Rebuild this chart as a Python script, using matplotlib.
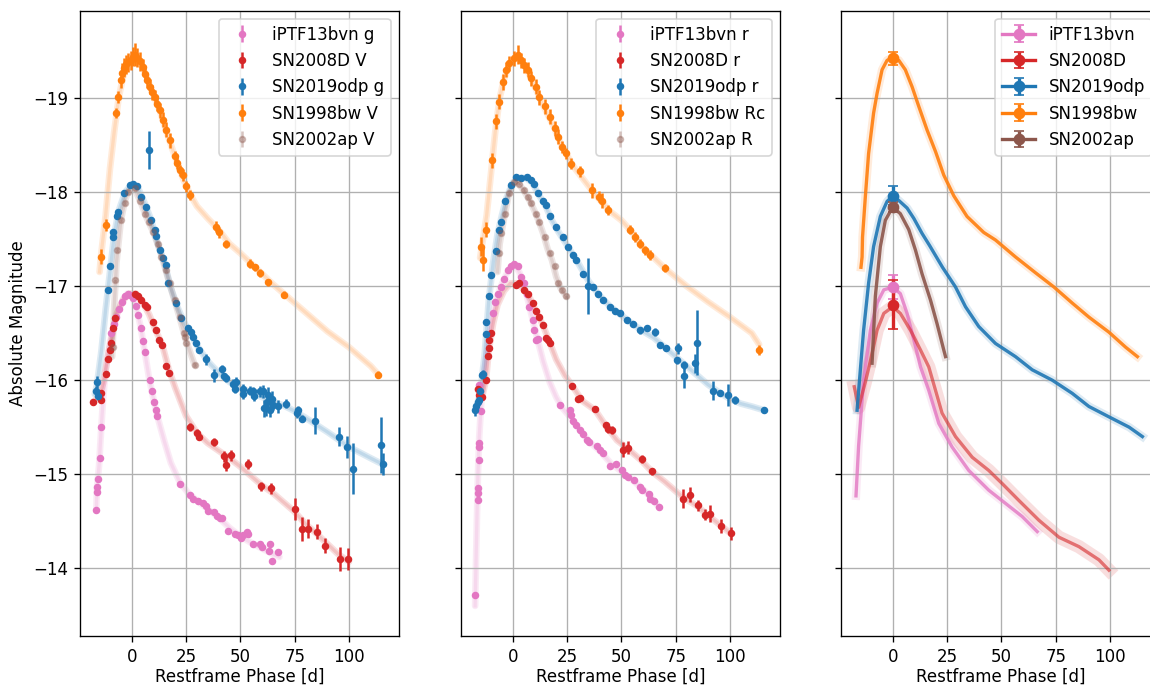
import numpy as np
import matplotlib
matplotlib.use("Agg")
from matplotlib import pyplot as plt

# ############################ colours ###############################
c_iptf = '#e377c2'
c_08d = '#d62728'
c_odp = '#1f77b4'
c_bw = '#ff7f0e'
c_02ap = '#8c564b'

# ############################ panel 1 : g / V ###############################
iptf_g_t = [-16.3,-16.0,-16.0,-15.4,-14.4,-14.0,-9.4,-8.3,-7.1,-5.8,-4.7,-3.2,-1.7,-0.9,0.6,1.8,2.9,
            4.5,5.2,6.0,8.3,9.4,10.3,11.1,11.7,22.1,26.7,28.2,30.6,32.9,34.4,35.2,37.8,39.3,40.6,41.6,
            44.4,47.5,49.0,50.1,51.3,52.9,53.6,55.9,59.0,59.8,63.3,63.6,64.4,67.2]
iptf_g_m = [-14.62,-14.81,-14.86,-14.95,-15.17,-15.50,-16.50,-16.60,-16.67,-16.76,-16.83,-16.89,-16.92,-16.91,-16.87,-16.79,-16.69,
            -16.55,-16.42,-16.30,-16.00,-15.89,-15.77,-15.68,-15.62,-14.90,-14.78,-14.74,-14.71,-14.69,-14.66,-14.61,-14.60,-14.56,-14.53,-14.53,
            -14.40,-14.36,-14.35,-14.32,-14.35,-14.39,-14.36,-14.26,-14.26,-14.23,-14.18,-14.26,-14.08,-14.17]
iptf_g_err = 0.03

sn08d_v_t = [-17.8,-14.3,-14.0,-12.0,-10.9,-10.1,-9.4,-8.6,-7.8,1.4,2.9,4.5,6.0,7.0,9.8,11.4,12.6,14.1,16.0,17.2,
             27.0,30.1,30.9,37.8,42.4,43.3,45.9,53.6,59.4,64.1,75.1,78.2,81.3,85.1,88.9,95.9,99.7]
sn08d_v_m = [-15.77,-15.79,-15.86,-16.07,-16.22,-16.32,-16.40,-16.55,-16.66,-16.92,-16.90,-16.85,-16.80,-16.78,-16.62,-16.53,-16.43,-16.37,-16.15,-16.08,
             -15.50,-15.44,-15.40,-15.34,-15.19,-15.10,-15.20,-15.11,-14.87,-14.85,-14.63,-14.42,-14.42,-14.39,-14.24,-14.10,-14.10]
sn08d_v_err = [0.03,0.03,0.03,0.03,0.03,0.03,0.03,0.03,0.03,0.03,0.03,0.03,0.03,0.03,0.03,0.03,0.03,0.03,0.03,0.03,
               0.04,0.04,0.04,0.04,0.06,0.07,0.06,0.05,0.05,0.06,0.12,0.13,0.10,0.08,0.08,0.13,0.12]

odp_g_t = [-16.3,-15.8,-15.5,-10.9,-10.1,-8.6,-8.4,-6.8,-6.4,-3.7,-0.9,0.6,2.5,
           4.5,6.8,8.0,9.1,10.6,11.2,12.9,14.4,15.7,16.7,20.3,22.9,26.0,27.4,28.2,29.8,31.0,34.4,37.8,
           41.6,42.3,43.2,46.4,47.5,48.2,51.0,51.3,54.4,56.0,56.3,59.0,60.5,60.8,62.0,62.4,62.8,63.6,64.4,65.1,67.4,
           71.0,75.9,76.6,78.2,84.3,95.5,98.9,101.7,114.6,115.5]
odp_g_m = [-15.89,-15.98,-15.83,-16.96,-17.21,-17.52,-17.57,-17.74,-17.79,-17.99,-18.07,-18.09,-18.06,
           -17.95,-17.84,-18.45,-17.70,-17.60,-17.53,-17.38,-17.30,-17.22,-17.03,-16.82,-16.66,-16.55,-16.51,-16.46,-16.39,-16.32,-16.22,-16.05,
           -16.12,-16.04,-16.02,-15.96,-15.91,-15.98,-15.91,-15.85,-15.89,-15.88,-15.83,-15.88,-15.88,-15.70,-15.70,-15.77,-15.84,-15.68,-15.80,-15.74,-15.72,
           -15.75,-15.65,-15.68,-15.59,-15.57,-15.40,-15.29,-15.06,-15.31,-15.11]
odp_g_err = [0.05,0.06,0.04,0.03,0.03,0.03,0.03,0.03,0.03,0.03,0.03,0.03,0.03,
             0.03,0.03,0.20,0.03,0.03,0.03,0.03,0.03,0.03,0.03,0.03,0.03,0.03,0.03,0.03,0.03,0.03,0.06,0.07,
             0.04,0.04,0.04,0.05,0.05,0.05,0.05,0.05,0.05,0.05,0.05,0.06,0.07,0.09,0.08,0.10,0.09,0.07,0.08,0.06,0.07,
             0.05,0.05,0.05,0.04,0.14,0.10,0.12,0.27,0.30,0.12]

bw_v_t = [-14.3,-12.0,-7.4,-6.1,-4.8,-4.4,-3.5,-2.5,-1.5,-0.5,0.5,1.4,2.5,3.7,5.0,6.0,7.2,8.3,9.5,10.6,
          11.8,12.9,14.3,15.7,17.5,19.8,21.0,22.1,23.6,25.2,27.0,39.0,40.3,43.6,54.4,56.8,59.0,62.8,70.2,113.5]
bw_v_m = [-17.31,-17.65,-18.84,-19.01,-19.19,-19.27,-19.32,-19.36,-19.38,-19.40,-19.44,-19.46,-19.43,-19.39,-19.33,-19.26,-19.19,-19.12,-19.06,-19.01,
          -18.94,-18.87,-18.77,-18.66,-18.55,-18.38,-18.31,-18.23,-18.18,-18.06,-17.97,-17.63,-17.57,-17.45,-17.24,-17.20,-17.14,-17.04,-16.91,-16.06]
bw_v_err = [0.08,0.06,0.05,0.06,0.08,0.10,0.10,0.10,0.10,0.10,0.10,0.12,0.10,0.10,0.08,0.08,0.08,0.08,0.08,0.08,
            0.08,0.08,0.08,0.08,0.08,0.06,0.06,0.06,0.06,0.06,0.05,0.06,0.06,0.04,0.05,0.04,0.04,0.04,0.04,0.04]

sn02ap_v_t = [-8.6,-7.8,-6.8,-5.1,-3.2,-1.7,1.4,3.7,6.0,8.0,9.8,12.1,13.7,15.7,17.5,19.8,22.1,24.0,24.4,24.9,29.0]
sn02ap_v_m = [-16.35,-17.06,-17.38,-17.70,-17.88,-18.00,-18.04,-17.91,-17.77,-17.68,-17.58,-17.45,-17.31,-17.17,-17.03,-16.85,-16.67,-16.50,-16.46,-16.39,-16.16]
sn02ap_v_err = 0.02

# fitted model curves (panel 1)
iptf_g_mod_t = [-16.3,-16.0,-15.0,-14.0,-13.0,-12.0,-10.0,-8.0,-6.0,-4.0,-2.0,0.0,2.0,4.0,6.0,8.0,10.0,12.0,15.0,18.0,22.0,26.0,30.0,35.0,40.0,45.0,50.0,55.0,60.0,65.0,68.0]
iptf_g_mod_m = [-14.62,-14.85,-15.10,-15.50,-15.85,-16.10,-16.40,-16.60,-16.75,-16.86,-16.92,-16.90,-16.78,-16.58,-16.30,-16.02,-15.80,-15.60,-15.35,-15.12,-14.92,-14.80,-14.72,-14.63,-14.54,-14.43,-14.34,-14.27,-14.21,-14.15,-14.12]
sn08d_v_mod_t = [-17.8,-15.0,-13.0,-11.0,-9.0,-7.0,-4.0,-1.0,2.0,5.0,8.0,11.0,14.0,17.0,20.0,25.0,30.0,35.0,40.0,45.0,50.0,55.0,60.0,65.0,70.0,75.0,80.0,85.0,90.0,95.0,100.0]
sn08d_v_mod_m = [-15.77,-15.82,-15.98,-16.25,-16.48,-16.70,-16.85,-16.92,-16.92,-16.83,-16.70,-16.53,-16.38,-16.12,-15.92,-15.62,-15.44,-15.33,-15.25,-15.17,-15.08,-14.98,-14.88,-14.80,-14.70,-14.60,-14.47,-14.37,-14.26,-14.15,-14.07]
odp_g_mod_t = [-17.0,-16.0,-14.0,-12.0,-10.0,-8.0,-6.0,-3.0,0.0,3.0,6.0,9.0,12.0,15.0,18.0,21.0,24.0,27.0,30.0,35.0,40.0,45.0,50.0,55.0,60.0,65.0,70.0,75.0,80.0,90.0,100.0,110.0,116.0]
odp_g_mod_m = [-15.85,-15.95,-16.30,-16.75,-17.15,-17.55,-17.80,-18.00,-18.08,-18.04,-17.88,-17.70,-17.45,-17.25,-16.98,-16.78,-16.62,-16.50,-16.37,-16.20,-16.08,-15.98,-15.92,-15.87,-15.82,-15.77,-15.73,-15.67,-15.60,-15.45,-15.29,-15.17,-15.10]
bw_v_mod_t = [-14.8,-14.0,-12.0,-10.0,-8.0,-6.0,-4.0,-2.0,1.0,4.0,7.0,10.0,13.0,16.0,20.0,24.0,27.0,30.0,35.0,40.0,45.0,50.0,55.0,60.0,65.0,70.0,80.0,90.0,100.0,110.0,113.5]
bw_v_mod_m = [-17.15,-17.35,-17.75,-18.25,-18.65,-19.00,-19.22,-19.35,-19.42,-19.38,-19.22,-19.03,-18.86,-18.64,-18.37,-18.12,-17.97,-17.85,-17.72,-17.60,-17.45,-17.35,-17.24,-17.13,-17.02,-16.92,-16.72,-16.52,-16.35,-16.15,-16.06]
sn02ap_v_mod_t = [-9.0,-8.0,-7.0,-5.0,-3.0,-1.0,1.0,4.0,7.0,10.0,13.0,16.0,19.0,22.0,25.0,29.0]
sn02ap_v_mod_m = [-16.25,-16.80,-17.25,-17.70,-17.92,-18.03,-18.05,-17.90,-17.72,-17.57,-17.38,-17.14,-16.90,-16.67,-16.42,-16.16]

# ############################ panel 2 : r / R ###############################
iptf_r_t = [-17.3,-16.2,-16.2,-16.2,-15.7,-15.4,-15.7,-14.7,-15.4,-9.3,-8.0,-6.9,-5.4,-3.9,-2.3,-0.8,0.8,2.3,3.9,
            5.4,6.5,7.7,9.3,10.0,10.8,11.6,21.9,26.2,27.0,27.8,29.3,30.9,32.4,34.0,35.2,38.6,
            40.1,41.7,44.8,47.5,50.2,51.7,53.2,55.6,58.6,59.4,62.5,63.3,64.8,67.1]
iptf_r_m = [-13.72,-14.73,-14.80,-14.85,-15.15,-15.29,-15.33,-15.67,-15.95,-16.71,-16.83,-16.92,-16.99,-17.08,-17.17,-17.21,-17.24,-17.21,-17.10,
            -17.03,-16.92,-16.78,-16.64,-16.53,-16.43,-16.44,-15.74,-15.68,-15.63,-15.57,-15.52,-15.47,-15.43,-15.36,-15.34,-15.30,
            -15.26,-15.23,-15.09,-15.11,-15.04,-14.99,-14.97,-14.94,-14.86,-14.83,-14.79,-14.74,-14.72,-14.65]
iptf_r_err = 0.03

sn08d_r_t = [-16.2,-15.4,-14.2,-12.3,-11.6,-11.1,-10.8,-10.0,1.5,3.1,5.4,6.9,9.3,10.8,12.3,13.9,15.4,16.2,17.0,
             27.5,30.1,30.9,37.9,42.9,44.0,45.5,50.9,53.2,59.4,64.1,78.4,81.5,85.2,88.7,91.0,96.0,100.3]
sn08d_r_m = [-15.91,-15.84,-15.82,-16.00,-16.26,-16.34,-16.43,-16.50,-17.01,-17.03,-16.96,-16.92,-16.82,-16.73,-16.67,-16.59,-16.45,-16.43,-16.39,
             -15.94,-15.80,-15.81,-15.69,-15.52,-15.48,-15.47,-15.26,-15.28,-15.16,-15.03,-14.74,-14.78,-14.67,-14.57,-14.58,-14.45,-14.37]
sn08d_r_err = [0.03,0.03,0.03,0.03,0.03,0.03,0.03,0.03,0.03,0.03,0.03,0.03,0.03,0.03,0.03,0.03,0.03,0.03,0.03,
               0.03,0.03,0.03,0.03,0.04,0.04,0.04,0.08,0.07,0.04,0.04,0.10,0.08,0.06,0.06,0.09,0.07,0.07]

odp_r_t = [-17.3,-16.9,-16.2,-15.7,-15.1,-14.2,-13.9,-12.3,-12.3,-11.1,-10.0,-7.7,-6.5,-5.4,-3.4,-0.8,1.5,3.9,6.5,8.5,
           10.0,11.6,13.9,15.4,17.0,20.0,23.1,25.5,27.8,29.3,32.4,34.7,37.0,39.4,41.7,44.8,47.1,49.4,52.5,55.2,
           58.6,61.7,65.3,67.9,70.7,75.6,75.9,78.7,78.7,84.0,84.9,92.3,95.4,99.1,102.3,115.7]
odp_r_m = [-15.68,-15.72,-15.77,-15.79,-15.88,-16.05,-16.07,-16.49,-16.62,-16.89,-17.12,-17.37,-17.60,-17.68,-17.91,-18.07,-18.16,-18.15,-18.16,-18.13,
           -18.09,-17.99,-17.91,-17.86,-17.74,-17.63,-17.52,-17.42,-17.33,-17.28,-17.13,-17.00,-16.99,-16.92,-16.85,-16.78,-16.73,-16.71,-16.64,-16.60,
           -16.53,-16.55,-16.51,-16.37,-16.34,-16.21,-16.34,-16.16,-16.04,-16.18,-16.40,-15.89,-15.86,-15.84,-15.79,-15.68]
odp_r_err = [0.06,0.06,0.05,0.05,0.04,0.04,0.04,0.03,0.03,0.03,0.03,0.03,0.03,0.03,0.03,0.03,0.03,0.03,0.03,0.03,
             0.03,0.03,0.03,0.03,0.03,0.03,0.03,0.03,0.03,0.03,0.03,0.30,0.03,0.03,0.03,0.03,0.03,0.03,0.03,0.03,
             0.04,0.03,0.04,0.03,0.03,0.04,0.06,0.04,0.12,0.10,0.35,0.10,0.03,0.12,0.04,0.03]

bw_r_t = [-14.7,-13.9,-12.3,-9.6,-7.7,-6.5,-4.6,-3.1,-1.5,0.8,2.3,3.9,5.4,6.9,8.5,10.8,12.3,14.7,17.0,19.3,
          20.8,22.8,24.7,27.0,30.9,36.3,39.8,40.9,44.0,54.0,56.3,58.6,61.0,63.0,70.2,113.4]
bw_r_m = [-17.42,-17.28,-17.60,-18.34,-18.75,-18.96,-19.17,-19.30,-19.37,-19.42,-19.46,-19.40,-19.35,-19.30,-19.21,-19.12,-19.01,-18.91,-18.80,-18.68,
          -18.59,-18.48,-18.41,-18.30,-18.22,-18.02,-17.95,-17.91,-17.81,-17.60,-17.52,-17.45,-17.38,-17.33,-17.19,-16.32]
bw_r_err = [0.10,0.12,0.08,0.08,0.08,0.08,0.08,0.08,0.08,0.08,0.10,0.08,0.08,0.08,0.08,0.08,0.08,0.08,0.08,0.08,
            0.08,0.06,0.06,0.06,0.06,0.08,0.06,0.08,0.05,0.05,0.05,0.05,0.05,0.05,0.04,0.05]

sn02ap_r_t = [-6.5,-5.4,-3.4,-1.5,0.8,3.1,5.4,6.9,8.5,10.8,12.3,14.7,17.0,19.3,20.8,22.8,24.7]
sn02ap_r_m = [-17.35,-17.56,-17.77,-17.99,-18.11,-18.09,-18.02,-17.95,-17.88,-17.77,-17.68,-17.52,-17.35,-17.21,-17.03,-16.96,-16.89]
sn02ap_r_err = 0.02

# fitted model curves (panel 2)
iptf_r_mod_t = [-17.3,-16.5,-16.0,-15.4,-14.5,-13.0,-11.0,-9.0,-7.0,-5.0,-3.0,-1.0,1.0,3.0,5.0,7.0,9.0,11.0,14.0,17.0,20.0,23.0,26.0,30.0,35.0,40.0,45.0,50.0,55.0,60.0,65.0,67.2]
iptf_r_mod_m = [-13.60,-14.50,-15.00,-15.40,-15.75,-16.10,-16.45,-16.72,-16.90,-17.02,-17.12,-17.20,-17.22,-17.15,-17.03,-16.85,-16.66,-16.47,-16.20,-15.98,-15.82,-15.70,-15.62,-15.50,-15.35,-15.25,-15.12,-15.03,-14.94,-14.84,-14.72,-14.65]
sn08d_r_mod_t = [-16.2,-14.0,-12.3,-11.0,-9.0,-7.0,-4.0,-1.0,2.0,5.0,8.0,11.0,14.0,17.0,20.0,24.0,28.0,32.0,38.0,43.0,48.0,53.0,59.0,64.0,70.0,78.0,85.0,90.0,96.0,100.3]
sn08d_r_mod_m = [-15.90,-15.83,-16.00,-16.32,-16.60,-16.80,-16.95,-17.03,-17.03,-16.97,-16.87,-16.72,-16.58,-16.40,-16.22,-16.05,-15.92,-15.78,-15.68,-15.51,-15.36,-15.27,-15.15,-15.03,-14.92,-14.76,-14.66,-14.56,-14.45,-14.37]
odp_r_mod_t = [-17.3,-15.0,-13.0,-11.0,-9.0,-7.0,-5.0,-3.0,0.0,3.0,6.0,9.0,12.0,15.0,18.0,21.0,24.0,27.0,30.0,35.0,40.0,45.0,50.0,55.0,60.0,65.0,70.0,75.0,80.0,85.0,90.0,95.0,100.0,105.0,110.0,115.7]
odp_r_mod_m = [-15.68,-15.85,-16.25,-16.85,-17.25,-17.55,-17.75,-17.93,-18.10,-18.15,-18.15,-18.10,-17.97,-17.86,-17.70,-17.58,-17.47,-17.36,-17.25,-17.05,-16.90,-16.78,-16.69,-16.60,-16.52,-16.45,-16.35,-16.25,-16.15,-16.05,-15.95,-15.87,-15.80,-15.75,-15.72,-15.68]
bw_r_mod_t = [-15.0,-14.0,-12.0,-10.0,-8.0,-6.0,-4.0,-2.0,1.0,4.0,7.0,10.0,13.0,16.0,19.0,22.0,25.0,28.0,32.0,36.0,40.0,45.0,50.0,55.0,60.0,65.0,70.0,80.0,90.0,100.0,110.0,113.4]
bw_r_mod_m = [-17.30,-17.45,-17.75,-18.20,-18.65,-19.00,-19.20,-19.33,-19.42,-19.40,-19.28,-19.13,-18.97,-18.83,-18.69,-18.52,-18.39,-18.27,-18.15,-18.03,-17.92,-17.79,-17.70,-17.57,-17.41,-17.30,-17.19,-17.00,-16.83,-16.67,-16.50,-16.38]
sn02ap_r_mod_t = [-7.0,-6.0,-4.0,-2.0,0.0,2.0,4.0,6.0,8.0,10.0,12.0,14.0,16.0,18.0,20.0,22.0,24.7]
sn02ap_r_mod_m = [-17.15,-17.45,-17.72,-17.95,-18.08,-18.10,-18.05,-17.98,-17.90,-17.80,-17.69,-17.56,-17.40,-17.28,-17.10,-16.98,-16.89]

# ############################ panel 3 : combined light curves ###############################
iptf_b_t = [-16.9,-15.7,-13.4,-10.3,-7.2,-4.1,0.0,3.5,6.6,9.7,12.8,16.6,21.2,27.3,35.0,44.2,51.9,59.6,66.5]
iptf_b_m = [-14.77,-15.30,-16.00,-16.53,-16.82,-16.96,-16.99,-16.92,-16.71,-16.43,-16.14,-15.89,-15.54,-15.29,-15.04,-14.83,-14.69,-14.55,-14.39]
sn08d_b_t = [-17.7,-15.7,-12.6,-10.3,-7.2,-4.1,0.0,3.5,8.2,12.8,16.6,22.7,28.9,36.6,44.2,50.4,58.1,67.3,76.5,85.7,94.9,99.5]
sn08d_b_m = [-15.93,-15.71,-15.98,-16.20,-16.53,-16.71,-16.78,-16.71,-16.53,-16.32,-16.14,-15.65,-15.40,-15.18,-15.04,-14.90,-14.72,-14.51,-14.33,-14.23,-14.09,-13.98]
odp_b_t = [-16.4,-14.9,-13.4,-11.1,-8.8,-5.7,-2.6,0.0,2.8,6.6,9.7,13.5,17.0,22.9,28.9,33.5,39.6,47.3,56.5,64.2,73.4,82.6,90.3,99.5,108.8,114.9]
odp_b_m = [-15.68,-16.11,-16.53,-17.03,-17.42,-17.74,-17.90,-17.96,-17.91,-17.83,-17.72,-17.56,-17.43,-17.20,-16.99,-16.78,-16.57,-16.39,-16.25,-16.11,-16.00,-15.86,-15.72,-15.61,-15.50,-15.40]
bw_b_t = [-14.6,-14.1,-13.9,-12.6,-11.1,-8.8,-7.2,-4.9,-2.6,0.0,2.8,5.8,8.9,12.0,15.8,19.7,23.5,28.1,34.2,41.9,47.3,56.5,65.8,74.2,82.6,90.3,99.5,107.2,112.6]
bw_b_m = [-17.20,-17.31,-17.52,-17.95,-18.41,-18.84,-19.05,-19.30,-19.40,-19.43,-19.40,-19.30,-19.12,-18.91,-18.66,-18.43,-18.18,-17.96,-17.74,-17.57,-17.49,-17.31,-17.14,-16.99,-16.82,-16.67,-16.51,-16.35,-16.25]
sn02ap_b_t = [-9.5,-8.0,-5.7,-3.4,0.0,3.5,7.4,10.5,13.5,17.4,20.4,23.5,24.3]
sn02ap_b_m = [-16.18,-16.89,-17.42,-17.70,-17.84,-17.77,-17.60,-17.38,-17.13,-16.85,-16.60,-16.32,-16.25]

# peak magnitudes with uncertainty
peak_names = ['iPTF13bvn', 'SN2008D', 'SN2019odp', 'SN1998bw', 'SN2002ap']
peak_phase = [0.0, 0.0, 0.0, 0.0, 0.0]
peak_mag = [-16.99, -16.80, -17.96, -19.42, -17.84]
peak_err = [0.13, 0.26, 0.10, 0.07, 0.05]

# ############################ figure ###############################
W, H, DPI = 1150, 686, 120
fig = plt.figure(figsize=(W / DPI, H / DPI), dpi=DPI)
bottom = 50 / H
height = 625.5 / H
width = 319 / W
ax1 = fig.add_axes([80 / W, bottom, width, height])
ax2 = fig.add_axes([461 / W, bottom, width, height], sharex=ax1, sharey=ax1)
ax3 = fig.add_axes([841 / W, bottom, width, height], sharex=ax1, sharey=ax1)


def band_panel(ax, series):
    # series: label, colour, t, m, err, model t, model m, point alpha
    for label, col, t, m, err, mt, mm, a in series:
        ax.plot(mt, mm, color=col, lw=4, alpha=0.15, solid_capstyle='round', zorder=1)
        ax.plot(mt, mm, color=col, lw=2, alpha=0.15, zorder=1)
        ax.errorbar(t, m, yerr=err, fmt='o', color=col, ms=3.5, elinewidth=1.5,
                    alpha=a, label=label, zorder=3)
    ax.legend(loc='upper right')
    ax.grid(True)


band_panel(ax1, [
    ('iPTF13bvn g', c_iptf, iptf_g_t, iptf_g_m, iptf_g_err, iptf_g_mod_t, iptf_g_mod_m, 1.0),
    ('SN2008D V', c_08d, sn08d_v_t, sn08d_v_m, sn08d_v_err, sn08d_v_mod_t, sn08d_v_mod_m, 1.0),
    ('SN2019odp g', c_odp, odp_g_t, odp_g_m, odp_g_err, odp_g_mod_t, odp_g_mod_m, 1.0),
    ('SN1998bw V', c_bw, bw_v_t, bw_v_m, bw_v_err, bw_v_mod_t, bw_v_mod_m, 1.0),
    ('SN2002ap V', c_02ap, sn02ap_v_t, sn02ap_v_m, sn02ap_v_err, sn02ap_v_mod_t, sn02ap_v_mod_m, 0.35),
])
band_panel(ax2, [
    ('iPTF13bvn r', c_iptf, iptf_r_t, iptf_r_m, iptf_r_err, iptf_r_mod_t, iptf_r_mod_m, 1.0),
    ('SN2008D r', c_08d, sn08d_r_t, sn08d_r_m, sn08d_r_err, sn08d_r_mod_t, sn08d_r_mod_m, 1.0),
    ('SN2019odp r', c_odp, odp_r_t, odp_r_m, odp_r_err, odp_r_mod_t, odp_r_mod_m, 1.0),
    ('SN1998bw Rc', c_bw, bw_r_t, bw_r_m, bw_r_err, bw_r_mod_t, bw_r_mod_m, 1.0),
    ('SN2002ap R', c_02ap, sn02ap_r_t, sn02ap_r_m, sn02ap_r_err, sn02ap_r_mod_t, sn02ap_r_mod_m, 0.35),
])

# third panel: model light curves, the red/pink ones are spread wider (many draws)
curves = [(c_iptf, iptf_b_t, iptf_b_m, 5, 0.8), (c_08d, sn08d_b_t, sn08d_b_m, 8, 0.6),
          (c_odp, odp_b_t, odp_b_m, 5, 0.9), (c_bw, bw_b_t, bw_b_m, 5, 0.9),
          (c_02ap, sn02ap_b_t, sn02ap_b_m, 5, 0.9)]
for i, (col, t, m, band, a) in enumerate(curves):
    ax3.plot(t, m, color=col, lw=band, alpha=0.15, solid_joinstyle='round', zorder=1)
    ax3.plot(t, m, color=col, lw=2, alpha=a, solid_joinstyle='round', zorder=2)
    ax3.errorbar(peak_phase[i], peak_mag[i], yerr=peak_err[i], fmt='o-', color=col,
                 ms=6, capsize=3, lw=2, label=peak_names[i], zorder=3)
ax3.legend(loc='upper right')
ax3.grid(True)

ax1.set_xlim(-23.8, 123)
ax1.set_ylim(-13.28, -19.93)
ax1.set_xticks([0, 25, 50, 75, 100])
ax1.set_yticks([-19, -18, -17, -16, -15, -14])
ax1.set_ylabel('Absolute Magnitude')
for ax in (ax1, ax2, ax3):
    ax.set_xlabel('Restframe Phase [d]', labelpad=1.5)
for ax in (ax2, ax3):
    ax.tick_params(labelleft=False)

fig.savefig('out.png', dpi=DPI)
